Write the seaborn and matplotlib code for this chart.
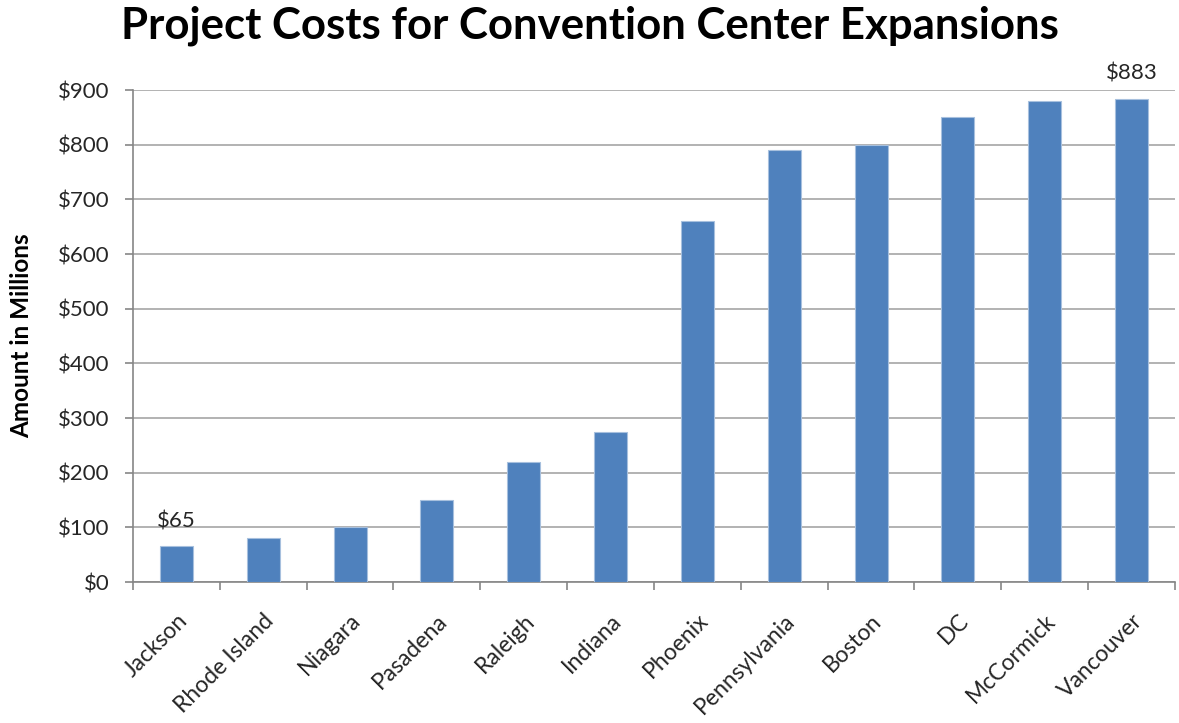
import matplotlib
matplotlib.use("Agg")
import matplotlib.pyplot as plt
import seaborn as sns
import pandas as pd
from matplotlib.ticker import FuncFormatter, MultipleLocator, FixedLocator

cities = ["Jackson", "Rhode Island", "Niagara", "Pasadena", "Raleigh", "Indiana",
          "Phoenix", "Pennsylvania", "Boston", "DC", "McCormick", "Vancouver"]
costs = [65, 80, 100, 150, 220, 275, 660, 790, 800, 850, 880, 883]
labelled = ["Jackson", "Vancouver"]

df = pd.DataFrame({"city": cities, "cost": costs})

sns.set_theme(style="white")
plt.rcParams["font.family"] = ["Lato", "DejaVu Sans"]

fig = plt.figure(figsize=(11.79, 7.23), dpi=100)
ax = fig.add_axes([0.1128, 0.195, 0.8838, 0.6805])

sns.barplot(data=df, x="city", y="cost", color="#4F81BD", width=0.38,
            edgecolor="#A7C0DE", linewidth=0.8, saturation=1, ax=ax, zorder=3)

ax.set_ylim(0, 900)
ax.set_xlim(-0.5, len(cities) - 0.5)
ax.yaxis.set_major_locator(MultipleLocator(100))
ax.yaxis.set_major_formatter(FuncFormatter(lambda v, p: f"${v:,.0f}"))
ax.grid(axis="y", color="#A6A6A6", linewidth=1.2, zorder=0)
ax.set_axisbelow(True)

for s in ["top", "right"]:
    ax.spines[s].set_visible(False)
for s in ["left", "bottom"]:
    ax.spines[s].set_color("#868686")
    ax.spines[s].set_linewidth(1.2)

ax.tick_params(axis="y", which="major", length=6, width=1.2, color="#868686",
               labelsize=16, labelcolor="#262626", pad=11, left=True)
ax.set_xticks(range(len(cities)))
ax.set_xticklabels(cities, rotation=45, ha="right", rotation_mode="anchor",
                   fontsize=16.5, color="#262626")
ax.tick_params(axis="x", which="major", length=0, pad=20)
ax.xaxis.set_minor_locator(FixedLocator([i + 0.5 for i in range(-1, len(cities))]))
ax.tick_params(axis="x", which="minor", length=5.5, width=1.2, color="#868686",
               bottom=True, direction="out")

for i, (c, v) in enumerate(zip(cities, costs)):
    if c in labelled:
        ax.annotate(f"${v}", (i, v), xytext=(0, 14), textcoords="offset points",
                    ha="center", va="baseline", fontsize=16, color="#262626")

ax.set_xlabel("")
ax.set_ylabel("Amount in Millions", fontsize=17.5, fontweight="bold", color="#000000")
ax.yaxis.set_label_coords(-0.096, 0.5)
fig.text(0.5, 1 - 38 / 723, "Project Costs for Convention Center Expansions",
         ha="center", va="baseline", fontsize=31.5, fontweight="bold", color="#000000")

fig.savefig("out.png", dpi=100)
